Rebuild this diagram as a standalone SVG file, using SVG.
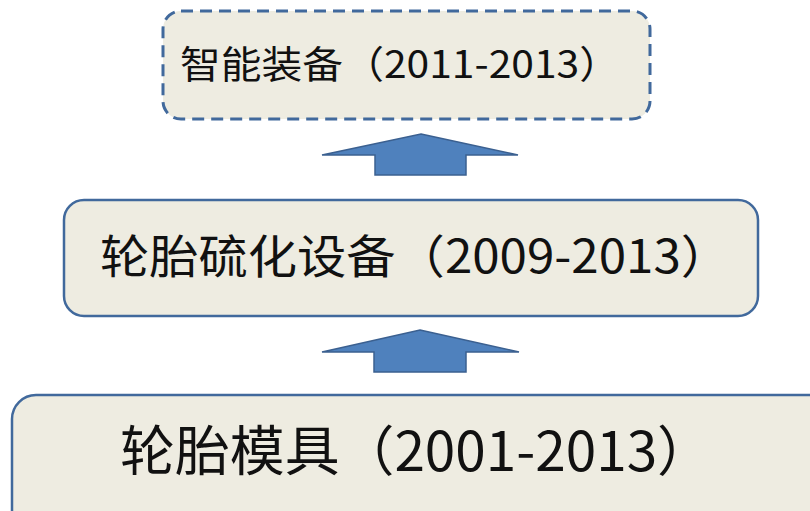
<svg xmlns="http://www.w3.org/2000/svg" width="810" height="511" viewBox="0 0 810 511">
<style>
.box{fill:#eeece1;stroke:#41699c;stroke-width:2.5}
.dash{stroke-width:3;stroke-dasharray:12 7}
.lbl{font-family:"Noto Sans CJK SC","Microsoft YaHei",sans-serif;fill:#111}
.arr{fill:#4f81bd;stroke:#3b6090;stroke-width:1.5;stroke-linejoin:miter}
</style>
<rect width="810" height="511" fill="#fff"/>
<g id="node-smart">
<rect class="box dash" x="163" y="11" width="487" height="108" rx="18"/>
<text class="lbl" x="180" y="78" font-size="38" textLength="440" lengthAdjust="spacingAndGlyphs">智能装备（2011-2013）</text>
</g>
<g id="node-cure">
<rect class="box" x="64" y="200" width="694" height="116" rx="20"/>
<text class="lbl" x="100" y="273" font-size="46" textLength="630" lengthAdjust="spacingAndGlyphs">轮胎硫化设备（2009-2013）</text>
</g>
<g id="node-mold">
<rect class="box" x="12" y="395" width="820" height="140" rx="24"/>
<text class="lbl" x="120" y="471" font-size="54" textLength="592" lengthAdjust="spacingAndGlyphs">轮胎模具（2001-2013）</text>
</g>
<g id="connectors">
<polygon class="arr" points="421,134 518,155 466,155 466,175 375,175 375,155 322,155"/>
<polygon class="arr" points="420,330 519,352 466,352 466,372 374,372 374,352 322,352"/>
</g>
</svg>
